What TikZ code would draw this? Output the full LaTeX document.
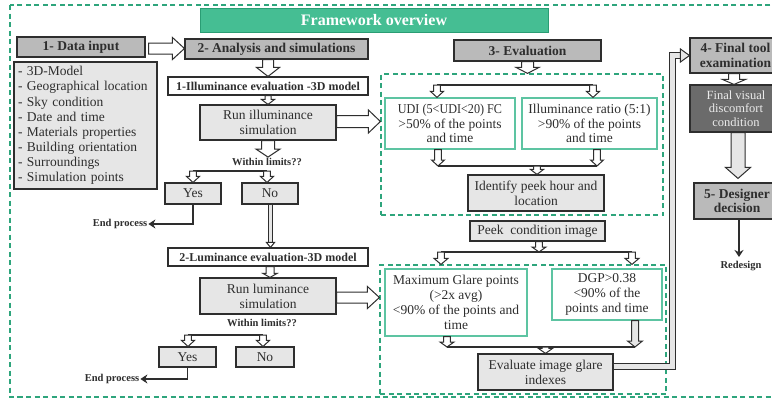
\documentclass[tikz,border=0pt]{standalone}
\usepackage{fontspec}
\usepackage{graphicx}
\setmainfont{Liberation Serif}
\usetikzlibrary{calc,arrows.meta}
\definecolor{tealfill}{HTML}{45BE93}
\definecolor{tealline}{HTML}{2A9D74}
\definecolor{greenb}{HTML}{5DC4A2}
\definecolor{dashg}{HTML}{2EA57C}
\definecolor{hgray}{HTML}{BABABA}
\definecolor{lgray}{HTML}{E6E6E6}
\definecolor{dgray}{HTML}{6B6B6B}
\definecolor{ink}{HTML}{2E2E2E}
\tikzset{
 base/.style={rectangle, inner sep=1pt, align=center, text=ink, font=\fontsize{13.5}{14.8}\selectfont},
 headbox/.style={base, draw=ink, line width=1.1pt, fill=hgray, font=\bfseries\fontsize{13.5}{14.5}\selectfont},
 procbox/.style={base, draw=ink, line width=1.1pt, fill=lgray},
 labbox/.style={base, draw=ink, line width=1.1pt, fill=white, font=\bfseries\fontsize{12}{13}\selectfont},
 critbox/.style={base, draw=greenb, line width=1.2pt, fill=white},
 darkbox/.style={base, draw=ink, line width=1.1pt, fill=dgray, text=white!92!black, font=\fontsize{12.5}{13.5}\selectfont},
 titlebox/.style={base, draw=tealline, line width=1pt, fill=tealfill, text=white, font=\bfseries\fontsize{16}{18}\selectfont},
 listbox/.style={rectangle, draw=ink, line width=1.1pt, fill=lgray, inner sep=0pt, align=left, text=ink, font=\fontsize{13.5}{15.1}\selectfont},
 dbox/.style={rectangle, draw=dashg, line width=1.2pt, dash pattern=on 5pt off 3.5pt, inner sep=0pt},
 note/.style={inner sep=1pt, text=ink, font=\bfseries\fontsize{10.5}{12}\selectfont},
 blk/.style={draw=ink, line width=1pt, fill=white, line join=miter},
 fork/.style={draw=ink, line width=1.5pt},
 pipe/.style={draw=ink, line width=1.2pt, double=lgray, double distance=5pt},
 thinarrow/.style={draw=ink, line width=1.5pt, -{Stealth[length=7pt,width=9pt]}}
}
% block arrow pointing down: [style]{start}{end}{shaft half}{head half}{head length}
\newcommand\BArDown[6][]{\draw[blk,#1] let \p1=(#2), \p2=(#3) in
 (\x1-#4,\y1) -- (\x1-#4,\y2+#6) -- (\x1-#5,\y2+#6) -- (\x1,\y2) -- (\x1+#5,\y2+#6) -- (\x1+#4,\y2+#6) -- (\x1+#4,\y1) -- cycle;}
% block arrow pointing right
\newcommand\BArRight[6][]{\draw[blk,#1] let \p1=(#2), \p2=(#3) in
 (\x1,\y1+#4) -- (\x2-#6,\y1+#4) -- (\x2-#6,\y1+#5) -- (\x2,\y1) -- (\x2-#6,\y1-#5) -- (\x2-#6,\y1-#4) -- (\x1,\y1-#4) -- cycle;}
\begin{document}
\begin{tikzpicture}[x=1pt,y=-1pt]
\useasboundingbox (0,0) rectangle (772,399);
\clip (0,0) rectangle (772,399);
\fill[white] (0,0) rectangle (772,399);
% outer frame
\draw[draw=dashg, line width=1.2pt, dash pattern=on 5pt off 3.5pt] (10,5) rectangle (780,397);

% title
\node[titlebox, minimum width=348pt, minimum height=24pt] (title) at (374,20) {Framework overview};

% left column
\node[headbox, minimum width=128pt, minimum height=20pt] (datain) at (81,47) {1- Data input};
\node[headbox, minimum width=183pt, minimum height=20pt] (analysis) at (276.5,49) {2- Analysis and simulations};
\node[listbox, minimum width=143pt, minimum height=127pt, text width=135pt] (datalist) at (85.5,125.5)
 {- 3D-Model\\- Geographical location\\- Sky condition\\- Date and time\\- Materials properties\\- Building orientation\\- Surroundings\\- Simulation points};
\node[labbox, minimum width=200pt, minimum height=18pt] (illum) at (268,86) {1-Illuminance evaluation -3D model};
\node[procbox, minimum width=136pt, minimum height=35pt] (runill) at (268,122.5) {Run illuminance\\simulation};
\node[note] (within1) at (267,162) {Within limits??};
\node[procbox, minimum width=56pt, minimum height=21pt] (yes1) at (193,193.5) {Yes};
\node[procbox, minimum width=56pt, minimum height=21pt] (no1) at (270,193.5) {No};
\node[note] (end1) at (120,224) {End process};
\node[labbox, minimum width=200pt, minimum height=18pt] (lum) at (268,257) {2-Luminance evaluation-3D model};
\node[procbox, minimum width=136pt, minimum height=36pt] (runlum) at (268,296) {Run luminance\\simulation};
\node[note] (within2) at (262,323) {Within limits??};
\node[procbox, minimum width=57pt, minimum height=20pt] (yes2) at (187.5,357) {Yes};
\node[procbox, minimum width=58pt, minimum height=20pt] (no2) at (265,357) {No};
\node[note] (end2) at (112,379) {End process};

% evaluation column
\node[headbox, minimum width=147pt, minimum height=21pt] (eval) at (527.5,50.5) {3- Evaluation};
\node[dbox, minimum width=282pt, minimum height=141pt] (dbox1) at (522,144.5) {};
\node[critbox, minimum width=130pt, minimum height=51pt] (udi) at (450,123.5) {\scalebox{0.9}[1]{UDI (5<UDI<20) FC}\\>50\% of the points\\and time};
\node[critbox, minimum width=135pt, minimum height=51pt] (ratio) at (589.5,123.5) {Illuminance ratio (5:1)\\>90\% of the points\\and time};
\node[procbox, minimum width=136pt, minimum height=36pt] (ident) at (536,193) {Identify peek hour and\\location};
\node[procbox, minimum width=135pt, minimum height=20pt] (peek) at (537.5,231) {Peek\ \ condition image};
\node[dbox, minimum width=286pt, minimum height=129pt] (dbox2) at (523,329.5) {};
\node[critbox, minimum width=142pt, minimum height=67pt] (maxg) at (456,302.5) {Maximum Glare points\\(>2x avg)\\<90\% of the points and\\time};
\node[critbox, minimum width=110pt, minimum height=51pt] (dgp) at (607,294.5) {DGP>0.38\\<90\% of the\\points and time};
\node[procbox, minimum width=135pt, minimum height=36pt] (evalg) at (545.5,372) {Evaluate image glare\\indexes};

% right column
\node[headbox, minimum width=91pt, minimum height=35pt] (ftool) at (735.5,55.5) {4- Final tool\\examination};
\node[darkbox, minimum width=92pt, minimum height=47pt] (fvis) at (736,108.5) {Final visual\\discomfort\\condition};
\node[headbox, minimum width=86pt, minimum height=36pt] (design) at (737,201) {5- Designer\\decision};
\node[note] (redesign) at (741,266) {Redesign};

% coordinates for forks
\coordinate (f1l) at (193,171);
\coordinate (f1r) at (267,171);
\coordinate (f2l) at (188,335);
\coordinate (f2r) at (263,335);
\coordinate (ft1) at (437,85);
\coordinate (ft2) at (593,85);
\coordinate (fb1) at (438,166);
\coordinate (fb2) at (597,166);
\coordinate (fp1) at (441,252);
\coordinate (fp2) at (632,252);
\coordinate (fe1) at (447,347);
\coordinate (fe2) at (635,347);

% left connectors
\BArRight{$(datain.east)+(3,1.5)$}{analysis.west}{5.5pt}{11pt}{12pt}
\BArDown{illum.north |- analysis.south}{illum.north}{5.5pt}{11.5pt}{9pt}
\BArDown{illum.south}{runill.north}{3pt}{6.5pt}{5pt}
\BArRight{$(runill.east)+(0,-1)$}{dbox1.west}{6pt}{11.5pt}{12pt}
\BArDown{runill.south}{within1.north}{6.5pt}{12pt}{8pt}
\draw[fork] (f1l) -- (f1r);
\BArDown{f1l}{f1l |- yes1.north}{3.3pt}{6.5pt}{6pt}
\BArDown{f1r}{f1r |- no1.north}{3.3pt}{6.5pt}{6pt}
\draw[thinarrow] (yes1.south) |- (end1.east);
\draw[pipe, double distance=3pt, line width=1pt] ($(no1.south)+(0.5,0)$) -- ($(no1.south |- lum.north)+(0.5,-4.5)$);
\draw[blk] ($(no1.south |- lum.north)+(-3.5,-5)$) -- ($(no1.south |- lum.north)+(0.5,0)$) -- ($(no1.south |- lum.north)+(4.5,-5)$) -- cycle;
\BArDown{$(lum.south)+(2,0)$}{$(runlum.north)+(2,0)$}{4pt}{7pt}{4pt}
\BArRight{$(runlum.east)+(0,1.5)$}{dbox2.west}{5.5pt}{11pt}{12pt}
\draw[fork] (f2l) -- (f2r);
\BArDown{f2l}{f2l |- yes2.north}{3.3pt}{6.5pt}{6pt}
\BArDown{f2r}{f2r |- no2.north}{3.3pt}{6.5pt}{6pt}
\draw[thinarrow] (yes2.south) |- (end2.east);

% evaluation connectors
\BArDown{eval.south}{dbox1.north}{6pt}{11.5pt}{6pt}
\draw[fork] (ft1) -- (ft2);
\BArDown{ft1}{ft1 |- udi.north}{3.3pt}{6.5pt}{6pt}
\BArDown{ft2}{ft2 |- ratio.north}{3.3pt}{6.5pt}{6pt}
\BArDown{fb1 |- udi.south}{fb1}{3.3pt}{6.5pt}{6pt}
\BArDown{fb2 |- ratio.south}{fb2}{3.3pt}{6.5pt}{6pt}
\draw[fork] (fb1) -- (fb2);
\BArDown{$(ident.north |- fb1)+(1,0)$}{$(ident.north)+(1,0)$}{3.3pt}{6.5pt}{5pt}
\BArDown{$(peek.south)+(1.5,0)$}{$(peek.south |- fp1)+(1.5,0)$}{3.3pt}{7pt}{5pt}
\draw[fork] (fp1) -- (fp2);
\BArDown{fp1}{fp1 |- dbox2.north}{3.3pt}{7pt}{6pt}
\BArDown{fp2}{fp2 |- dbox2.north}{3.3pt}{7pt}{6pt}
\BArDown{fe1 |- maxg.south}{fe1}{3.3pt}{7pt}{5pt}
\BArDown[fill=lgray]{fe2 |- dgp.south}{fe2}{3.5pt}{7.5pt}{6pt}
\draw[fork] (fe1) -- (fe2);
\BArDown{evalg.north |- fe1}{evalg.north}{3.3pt}{7pt}{5pt}

% pipe to final tool
\draw[pipe] ($(evalg.east)+(0,-5.5)$) -| ($(ftool.west)+(-17,0)$) -- ($(ftool.west)+(-8,0)$);
\draw[blk, fill=lgray] ($(ftool.west)+(-9,-6.5)$) -- (ftool.west) -- ($(ftool.west)+(-9,6.5)$) -- cycle;

% right column connectors
\BArDown{$(ftool.south)+(-1.5,0)$}{$(ftool.south |- fvis.north)+(-1.5,0)$}{5.5pt}{11.5pt}{5pt}
\BArDown[fill=lgray]{$(fvis.south)+(2,0)$}{$(fvis.south |- design.north)+(2,-4)$}{7pt}{12.5pt}{11pt}
\draw[thinarrow, shorten >=3pt] ($(design.south)+(2,0)$) -- ($(design.south |- redesign.north)+(2,0)$);
\end{tikzpicture}
\end{document}
